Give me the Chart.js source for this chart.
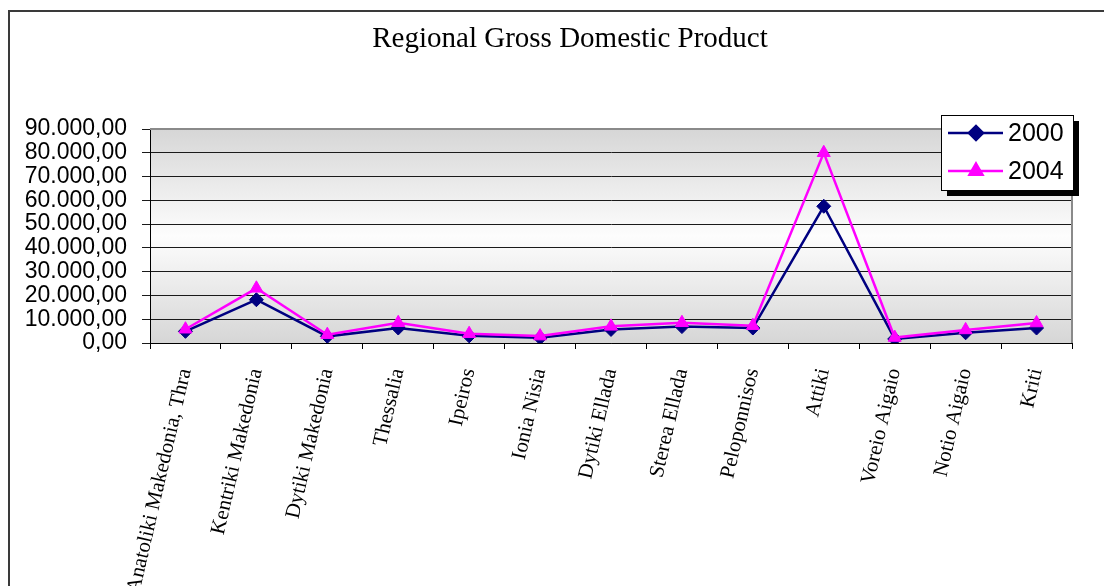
<!DOCTYPE html>
<html>
<head>
<meta charset="utf-8">
<script src="https://cdn.jsdelivr.net/npm/chart.js@4/dist/chart.umd.min.js"></script>
<style>
  html, body { margin: 0; padding: 0; background: #ffffff; }
  #wrap { width: 1104px; height: 586px; position: relative; }
</style>
</head>
<body>
<div id="wrap"><canvas id="c" width="1104" height="586"></canvas></div>
<script>
const chartTitle = 'Regional Gross Domestic Product';
const regions = ['Anatoliki Makedonia, Thra', 'Kentriki Makedonia', 'Dytiki Makedonia', 'Thessalia', 'Ipeiros', 'Ionia Nisia', 'Dytiki Ellada', 'Sterea Ellada', 'Peloponnisos', 'Attiki', 'Voreio Aigaio', 'Notio Aigaio', 'Kriti'];
const seriesNames = ['2000', '2004'];
const gdp2000 = [4900, 18200, 2800, 6300, 3000, 2200, 5700, 6900, 6300, 57500, 1700, 4300, 6300];
const gdp2004 = [5800, 23000, 3500, 8500, 3900, 2900, 7000, 8500, 7300, 80000, 2300, 5500, 8400];
const yMin = 0, yMax = 90000, yStep = 10000;

function fmtNum(v) {
  const s = Math.round(v).toString().replace(/\B(?=(\d{3})+(?!\d))/g, '.');
  return s + ',00';
}

const framePlugin = {
  id: 'frameAndBg',
  beforeDraw(chart) {
    const ctx = chart.ctx;
    const a = chart.chartArea;
    ctx.save();
    ctx.strokeStyle = '#3a3a3a';
    ctx.lineWidth = 2;
    ctx.beginPath();
    ctx.moveTo(9, chart.height + 2);
    ctx.lineTo(9, 11);
    ctx.lineTo(chart.width + 2, 11);
    ctx.stroke();
    const g = ctx.createLinearGradient(0, a.top, 0, a.bottom);
    g.addColorStop(0, '#d6d6d6');
    g.addColorStop(0.5, '#fdfdfd');
    g.addColorStop(1, '#d6d6d6');
    ctx.fillStyle = g;
    ctx.fillRect(a.left, a.top, a.right - a.left, a.bottom - a.top);
    ctx.fillStyle = '#000';
    ctx.font = '29px "Liberation Serif", "Times New Roman", serif';
    ctx.textAlign = 'center';
    ctx.textBaseline = 'alphabetic';
    ctx.fillText(chartTitle, 570, 47);
    ctx.restore();
  },
  beforeDatasetsDraw(chart) {
    const ctx = chart.ctx;
    const a = chart.chartArea;
    ctx.save();
    ctx.strokeStyle = '#8a8a8a';
    ctx.lineWidth = 2;
    ctx.beginPath();
    ctx.moveTo(a.left, a.top);
    ctx.lineTo(a.right, a.top);
    ctx.lineTo(a.right, a.bottom);
    ctx.stroke();
    ctx.restore();
  },
  afterDraw(chart) {
    const ctx = chart.ctx;
    const bx = 941, by = 115, bw = 132, bh = 75;
    ctx.save();
    ctx.fillStyle = '#000';
    ctx.fillRect(bx + 6, by + 6, bw, bh);
    ctx.fillStyle = '#fff';
    ctx.fillRect(bx, by, bw, bh);
    ctx.strokeStyle = '#000';
    ctx.lineWidth = 1;
    ctx.strokeRect(bx + 0.5, by + 0.5, bw, bh);
    const rows = [133, 171];
    chart.data.datasets.forEach((ds, i) => {
      const y = rows[i];
      ctx.strokeStyle = ds.borderColor;
      ctx.lineWidth = ds.borderWidth;
      ctx.beginPath();
      ctx.moveTo(948, y);
      ctx.lineTo(1003, y);
      ctx.stroke();
      Chart.helpers.drawPoint(ctx, {
        pointStyle: ds.pointStyle,
        radius: ds.pointRadius,
        borderWidth: 1
      }, 976, y);
      ctx.fillStyle = ds.pointBackgroundColor;
      ctx.strokeStyle = ds.pointBorderColor;
      ctx.fill();
      ctx.fillStyle = '#000';
      ctx.font = '25px "Liberation Sans", Arial, sans-serif';
      ctx.textAlign = 'left';
      ctx.textBaseline = 'middle';
      ctx.fillText(ds.label, 1008, y + 1);
    });
    ctx.restore();
  }
};

const ctx = document.getElementById('c').getContext('2d');
new Chart(ctx, {
  type: 'line',
  data: {
    labels: regions,
    datasets: [
      {
        label: seriesNames[0],
        data: gdp2000,
        borderColor: '#000080',
        backgroundColor: '#000080',
        borderWidth: 2.5,
        pointStyle: 'rectRot',
        pointRadius: 7,
        pointHoverRadius: 7,
        pointBackgroundColor: '#000080',
        pointBorderColor: '#000080',
        pointBorderWidth: 1,
        tension: 0,
        order: 1
      },
      {
        label: seriesNames[1],
        data: gdp2004,
        borderColor: '#ff00ff',
        backgroundColor: '#ff00ff',
        borderWidth: 2.5,
        pointStyle: 'triangle',
        pointRadius: 7.5,
        pointHoverRadius: 7.5,
        pointBackgroundColor: '#ff00ff',
        pointBorderColor: '#ff00ff',
        pointBorderWidth: 1,
        tension: 0,
        order: 0
      }
    ]
  },
  options: {
    responsive: false,
    animation: false,
    events: [],
    layout: { padding: { top: 129, right: 32, bottom: 0, left: 0 } },
    plugins: {
      legend: { display: false },
      title: { display: false },
      tooltip: { enabled: false }
    },
    scales: {
      x: {
        type: 'category',
        offset: true,
        grid: {
          offset: true,
          drawOnChartArea: false,
          drawTicks: true,
          tickLength: 6,
          color: '#000'
        },
        border: { display: true, color: '#000', width: 1 },
        ticks: {
          autoSkip: false,
          minRotation: 77,
          maxRotation: 77,
          padding: 17,
          color: '#000',
          font: { family: '"Liberation Serif", "Times New Roman", serif', size: 21 }
        },
        afterFit(scale) { scale.height = 586 - 343; }
      },
      y: {
        min: yMin,
        max: yMax,
        ticks: {
          stepSize: yStep,
          autoSkip: false,
          padding: 15,
          color: '#000',
          font: { family: '"Liberation Sans", Arial, sans-serif', size: 23 },
          callback: (v) => fmtNum(v)
        },
        grid: {
          color: '#1a1a1a',
          lineWidth: 1,
          tickLength: 8
        },
        border: { display: true, color: '#000', width: 1 },
        afterFit(scale) { scale.width = 150; }
      }
    }
  },
  plugins: [framePlugin]
});
</script>
</body>
</html>
